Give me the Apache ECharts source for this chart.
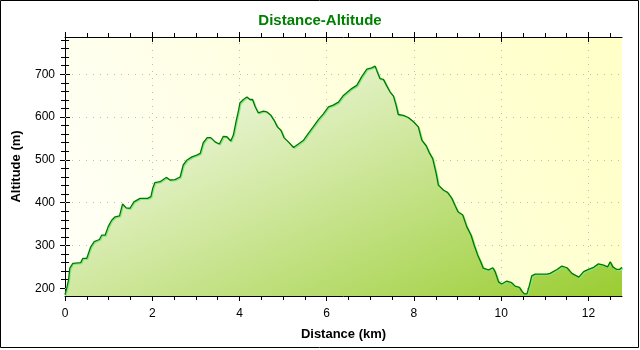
<!DOCTYPE html>
<html>
<head>
<meta charset="utf-8">
<script src="https://cdn.jsdelivr.net/npm/echarts@6/dist/echarts.min.js"></script>
<style>
  html, body { margin: 0; padding: 0; background: #fff; }
  #chart { width: 640px; height: 350px; }
</style>
</head>
<body>
<div id="chart"></div>
<script>
// Elevation profile of the route: distance along the track and altitude
const distanceKm = [
  0.00, 0.05, 0.08, 0.11, 0.18, 0.36, 0.41, 0.50, 0.59, 0.67, 0.79, 0.84, 0.92, 0.99,
  1.07, 1.15, 1.25, 1.32, 1.40, 1.49, 1.58, 1.72, 1.89, 1.97, 2.01, 2.06, 2.18, 2.32,
  2.41, 2.52, 2.64, 2.71, 2.79, 2.91, 3.02, 3.10, 3.17, 3.26, 3.34, 3.44, 3.54, 3.63,
  3.71, 3.80, 3.86, 3.92, 3.98, 4.01, 4.09, 4.17, 4.24, 4.30, 4.36, 4.43, 4.55, 4.63,
  4.72, 4.79, 4.87, 4.95, 5.02, 5.12, 5.24, 5.35, 5.47, 5.58, 5.69, 5.81, 5.92, 6.04,
  6.15, 6.27, 6.37, 6.45, 6.58, 6.69, 6.80, 6.92, 7.03, 7.11, 7.16, 7.22, 7.30, 7.37,
  7.45, 7.53, 7.59, 7.64, 7.76, 7.87, 7.99, 8.10, 8.18, 8.28, 8.36, 8.43, 8.51, 8.56,
  8.68, 8.77, 8.87, 8.94, 9.01, 9.12, 9.21, 9.31, 9.38, 9.46, 9.53, 9.59, 9.71, 9.81,
  9.86, 9.94, 10.01, 10.13, 10.24, 10.32, 10.42, 10.47, 10.53, 10.59, 10.65, 10.70,
  10.78, 11.05, 11.12, 11.28, 11.39, 11.51, 11.62, 11.78, 11.89, 12.00, 12.12, 12.23,
  12.35, 12.44, 12.50, 12.56, 12.65, 12.71, 12.77
];
const altitudeM = [
  185, 205, 219, 247, 258, 260, 270, 270, 297, 309, 314, 324, 324, 344,
  359, 367, 369, 397, 388, 387, 402, 410, 410, 414, 433, 447, 449, 459,
  453, 454, 460, 488, 499, 507, 511, 515, 540, 552, 552, 542, 537, 555,
  554, 544, 558, 589, 616, 633, 641, 647, 641, 641, 624, 610, 614, 612,
  604, 593, 577, 569, 552, 542, 529, 537, 546, 562, 577, 594, 607, 624,
  628, 635, 649, 656, 667, 674, 694, 712, 715, 719, 705, 690, 688, 674,
  659, 649, 628, 606, 604, 599, 589, 577, 546, 533, 515, 503, 468, 441,
  429, 424, 410, 394, 379, 371, 344, 324, 301, 278, 262, 247, 243, 248,
  239, 215, 210, 217, 213, 205, 202, 194, 187, 187, 208, 229,
  233, 233, 235, 244, 252, 248, 235, 226, 239, 244, 249, 257,
  254, 250, 262, 250, 244, 244, 249
];

// Axis ranges and tick labels
const xRange = [0, 12.77];
const yRange = [182, 787];
const xTickValues = [0, 2, 4, 6, 8, 10, 12];
const yTickValues = [200, 300, 400, 500, 600, 700];
const xMinorStep = 0.5;
const yMinorStep = 20;

const FONT = 'Liberation Sans, Arial, Helvetica, sans-serif';

function steps(from, to, step) {
  const out = [];
  for (let v = from; v <= to + 1e-9; v += step) out.push(Math.round(v * 1000) / 1000);
  return out;
}
const xMinorValues = steps(0, xRange[1], xMinorStep);
const yMinorValues = steps(yTickValues[0], yRange[1], yMinorStep);

const tickLine = { color: '#000', width: 1 };

// A bare value axis; each layer switches on only the parts it draws
function axisLayer(range, extra) {
  return Object.assign({
    type: 'value',
    min: range[0],
    max: range[1],
    axisLine: { show: false },
    axisTick: { show: false },
    axisLabel: { show: false },
    splitLine: { show: false },
    minorTick: { show: false }
  }, extra);
}

function frameAxes(range, major, minor, sideA, sideB, mainExtra) {
  return [
    axisLayer(range, Object.assign({
      position: sideA,
      axisLine: { show: true, lineStyle: tickLine },
      axisTick: { show: true, length: 5, customValues: major, lineStyle: tickLine }
    }, mainExtra)),
    axisLayer(range, { position: sideA, axisTick: { show: true, length: 4, customValues: minor, lineStyle: tickLine } }),
    axisLayer(range, { position: sideA, axisTick: { show: true, inside: true, length: 5, customValues: major, lineStyle: tickLine } }),
    axisLayer(range, {
      position: sideB,
      axisLine: { show: true, lineStyle: tickLine },
      axisTick: { show: true, length: 5, customValues: major, lineStyle: tickLine }
    }),
    axisLayer(range, { position: sideB, axisTick: { show: true, length: 4, customValues: minor, lineStyle: tickLine } }),
    axisLayer(range, { position: sideB, axisTick: { show: true, inside: true, length: 5, customValues: major, lineStyle: tickLine } })
  ];
}

const labelStyle = { show: true, color: '#000', fontSize: 12, fontFamily: FONT };
const nameStyle = { color: '#000', fontSize: 13, fontWeight: 'bold', fontFamily: FONT };

const xAxes = frameAxes(xRange, xTickValues, xMinorValues, 'bottom', 'top', {
  axisLabel: Object.assign({ customValues: xTickValues, margin: 12 }, labelStyle),
  name: 'Distance (km)',
  nameLocation: 'middle',
  nameGap: 32,
  nameTextStyle: nameStyle
});
const yAxes = frameAxes(yRange, yTickValues, yMinorValues, 'left', 'right', {
  axisLabel: Object.assign({ customValues: yTickValues, margin: 10 }, labelStyle),
  name: 'Altitude (m)',
  nameLocation: 'middle',
  nameGap: 42,
  nameTextStyle: nameStyle
});

// Dotted grid lines at the labelled ticks (kept behind the filled profile)
const gridLines = yTickValues.map(v => ({ yAxis: v }))
  .concat(xTickValues.filter(v => v > xRange[0]).map(v => ({ xAxis: v })));

const chart = echarts.init(document.getElementById('chart'), null, { renderer: 'canvas' });

chart.setOption({
  animation: false,
  backgroundColor: '#fff',
  title: {
    text: 'Distance-Altitude',
    left: 'center',
    top: 8,
    textStyle: {
      color: '#008000',
      fontSize: 15,
      fontWeight: 'bold',
      fontFamily: FONT,
      textShadowColor: 'rgba(0,170,170,0.35)',
      textShadowOffsetX: 1,
      textShadowOffsetY: 1,
      textShadowBlur: 0
    }
  },
  grid: {
    left: 65,
    right: 18,
    top: 37,
    bottom: 54,
    show: true,
    borderWidth: 0,
    backgroundColor: new echarts.graphic.LinearGradient(1, 0, 0, 1, [
      { offset: 0, color: '#ffffc6' },
      { offset: 1, color: '#fffff8' }
    ])
  },
  xAxis: xAxes,
  yAxis: yAxes,
  series: [{
    type: 'line',
    xAxisIndex: 0,
    yAxisIndex: 0,
    data: distanceKm.map((d, i) => [d, altitudeM[i]]),
    symbol: 'none',
    showSymbol: false,
    z: 3,
    lineStyle: {
      color: '#007800',
      width: 1.3,
      shadowColor: '#84e884',
      shadowOffsetX: 1,
      shadowOffsetY: 1,
      shadowBlur: 0
    },
    areaStyle: {
      origin: 'start',
      opacity: 1,
      color: new echarts.graphic.LinearGradient(0, 0, 0.34, 1.75, [
        { offset: 0, color: '#ffffff' },
        { offset: 1, color: '#9acd32' }
      ])
    },
    markLine: {
      silent: true,
      z: 1,
      symbol: ['none', 'none'],
      label: { show: false },
      animation: false,
      lineStyle: { color: '#bcbcbc', width: 1, type: [1, 6] },
      emphasis: { disabled: true },
      data: gridLines
    }
  }],
  graphic: [{
    type: 'rect',
    silent: true,
    z: 100,
    shape: { x: 0.5, y: 0.5, width: 638, height: 347 },
    style: { fill: 'none', stroke: '#000', lineWidth: 1 }
  }]
});
</script>
</body>
</html>
